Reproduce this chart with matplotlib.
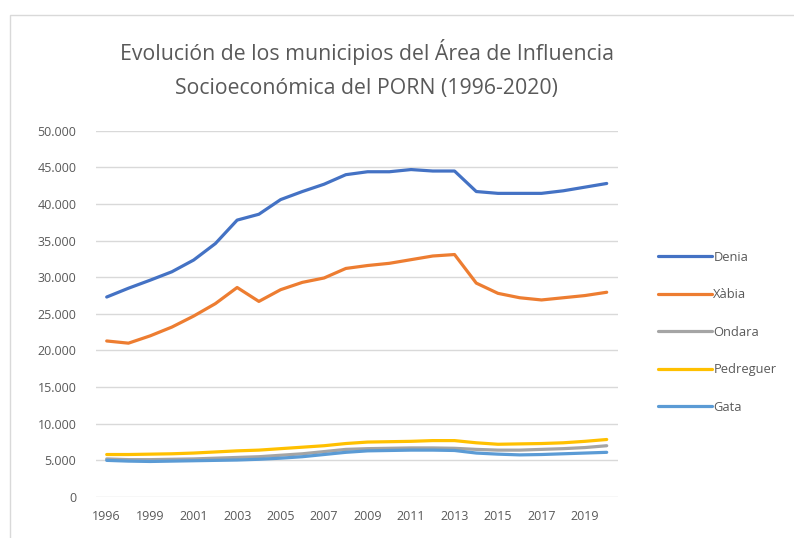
import matplotlib.pyplot as plt
from matplotlib.patches import Rectangle
from matplotlib.ticker import FuncFormatter

years = ["1996", "1998", "1999", "2000", "2001", "2002", "2003", "2004",
         "2005", "2006", "2007", "2008", "2009", "2010", "2011", "2012",
         "2013", "2014", "2015", "2016", "2017", "2018", "2019", "2020"]

denia = [27300, 28500, 29600, 30750, 32350, 34600, 37800, 38600,
         40600, 41700, 42700, 44000, 44400, 44400, 44700, 44500,
         44500, 41700, 41450, 41450, 41450, 41800, 42300, 42800]
xabia = [21300, 21000, 22000, 23200, 24700, 26400, 28600, 26700,
         28300, 29300, 29900, 31200, 31600, 31900, 32400, 32900,
         33100, 29200, 27800, 27200, 26900, 27200, 27500, 27950]
ondara = [5200, 5100, 5100, 5150, 5200, 5300, 5400, 5500,
          5700, 5900, 6200, 6500, 6600, 6650, 6700, 6700,
          6650, 6500, 6400, 6400, 6500, 6600, 6750, 7000]
pedreguer = [5800, 5800, 5850, 5900, 6000, 6150, 6300, 6400,
             6600, 6800, 7000, 7300, 7500, 7550, 7600, 7700,
             7700, 7400, 7200, 7250, 7300, 7400, 7600, 7850]
gata = [5000, 4900, 4850, 4900, 4950, 5000, 5050, 5150,
        5300, 5500, 5800, 6100, 6300, 6350, 6400, 6400,
        6350, 6000, 5850, 5750, 5800, 5900, 6000, 6100]

series = [("Denia", denia, "#4472C4"),
          ("Xàbia", xabia, "#ED7D31"),
          ("Ondara", ondara, "#A5A5A5"),
          ("Pedreguer", pedreguer, "#FFC000"),
          ("Gata", gata, "#5B9BD5")]

plt.rcParams["font.family"] = ["Open Sans", "DejaVu Sans"]
text_color = "#595959"

fig = plt.figure(figsize=(7.94, 5.38), dpi=100)
ax = fig.add_axes([0.1207, 0.0762, 0.6571, 0.6808])

x = range(len(years))
for name, vals, col in series:
    ax.plot(x, vals, color=col, lw=2.3, label=name, solid_capstyle="round")

ax.set_xlim(-0.5, len(years) - 0.5)
ax.set_ylim(0, 50000)
ax.set_yticks(range(0, 50001, 5000))
ax.yaxis.set_major_formatter(FuncFormatter(lambda v, p: f"{int(v):,}".replace(",", ".")))
ax.set_xticks(list(x)[::2])
ax.set_xticklabels(years[::2])
ax.grid(axis="y", color="#D9D9D9", lw=1)
ax.set_axisbelow(True)
for s in ax.spines.values():
    s.set_visible(False)
ax.tick_params(length=0, colors=text_color, labelsize=9)
ax.tick_params(axis="y", pad=14)
ax.tick_params(axis="x", pad=9)

fig.text(0.462, 0.872, "Evolución de los municipios del Área de Influencia\nSocioeconómica del PORN (1996-2020)",
         ha="center", va="center", fontsize=15.3, color=text_color, linespacing=1.85)

leg = ax.legend(loc="center left", bbox_to_anchor=(1.055, 0.45), frameon=False,
                fontsize=9.3, labelspacing=1.9, handlelength=4.2, handletextpad=0.1)
for t in leg.get_texts():
    t.set_color(text_color)

fig.patches.append(Rectangle((10 / 794, -0.1), 1.2, 1 - 15 / 538 + 0.1,
                             transform=fig.transFigure, fill=False,
                             edgecolor="#D9D9D9", lw=1))

fig.savefig("out.png", dpi=100)
